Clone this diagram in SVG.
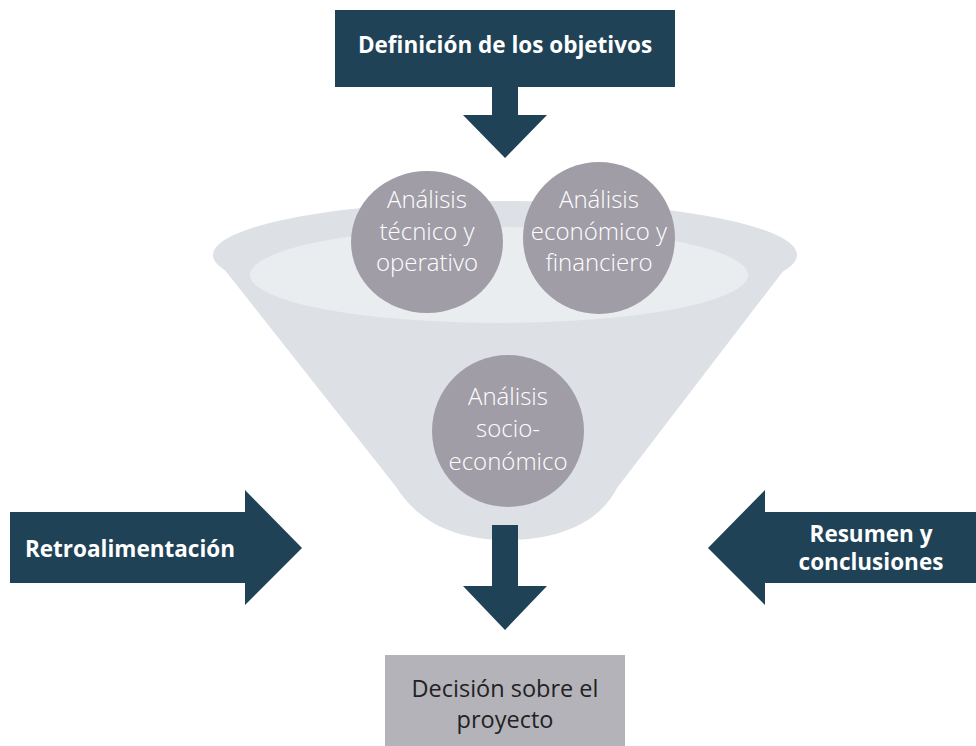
<svg xmlns="http://www.w3.org/2000/svg" width="976" height="746" viewBox="0 0 976 746">
<style>
.navy{fill:#1f4257}
.bold{font-family:"Open Sans","Noto Sans","Liberation Sans",sans-serif;font-weight:700;fill:#ffffff;font-size:22.5px}
.circ{fill:#a09da7}
.ct{font-family:"Open Sans","Noto Sans","Liberation Sans",sans-serif;font-weight:300;fill:#ffffff;font-size:24px;text-anchor:middle}
.dt{font-family:"Open Sans","Noto Sans","Liberation Sans",sans-serif;font-weight:400;fill:#222222;font-size:23.5px;text-anchor:middle}
</style>
<rect width="976" height="746" fill="#ffffff"/>
<g id="funnel">
<ellipse cx="505" cy="255" rx="292" ry="54" fill="#dde1e5"/>
<path d="M213,255 L397,488 C420,525 460,540 507,540 C560,540 600,522 617,488 L797,253 Z" fill="#dde1e5"/>
<ellipse cx="499" cy="275" rx="249" ry="48" fill="#e9edf0"/>
</g>
<g id="connectors">
<path class="navy" d="M492,86 H518 V115 H547 L505,158 L463,115 H492 Z"/>
<path class="navy" d="M492,525 H518 V586 H547 L505,630 L463,586 H492 Z"/>
</g>
<g id="objetivos">
<rect class="navy" x="335" y="10" width="340" height="77"/>
<text class="bold" x="505" y="53" text-anchor="middle">Definición de los objetivos</text>
</g>
<g id="tecnico">
<ellipse class="circ" cx="427" cy="242" rx="76" ry="71"/>
<text class="ct" x="427" y="208">Análisis</text>
<text class="ct" x="427" y="240">técnico y</text>
<text class="ct" x="427" y="271">operativo</text>
</g>
<g id="economico">
<circle class="circ" cx="599" cy="238" r="76"/>
<text class="ct" x="599" y="208">Análisis</text>
<text class="ct" x="599" y="240">económico y</text>
<text class="ct" x="599" y="271">financiero</text>
</g>
<g id="socio">
<circle class="circ" cx="508" cy="431" r="76"/>
<text class="ct" x="508" y="405">Análisis</text>
<text class="ct" x="508" y="437">socio-</text>
<text class="ct" x="508" y="470">económico</text>
</g>
<g id="retro">
<path class="navy" d="M10,512 H245 V490 L302,548 L245,605 V583 H10 Z"/>
<text class="bold" x="130" y="557" text-anchor="middle">Retroalimentación</text>
</g>
<g id="resumen">
<path class="navy" d="M976,512 H765 V490 L708,548 L765,605 V583 H976 Z"/>
<text class="bold" x="871" y="542" text-anchor="middle">Resumen y</text>
<text class="bold" x="871" y="570" text-anchor="middle">conclusiones</text>
</g>
<g id="decision">
<rect x="385" y="655" width="240" height="91" fill="#b5b3ba"/>
<text class="dt" x="505" y="697">Decisión sobre el</text>
<text class="dt" x="505" y="728">proyecto</text>
</g>
</svg>
